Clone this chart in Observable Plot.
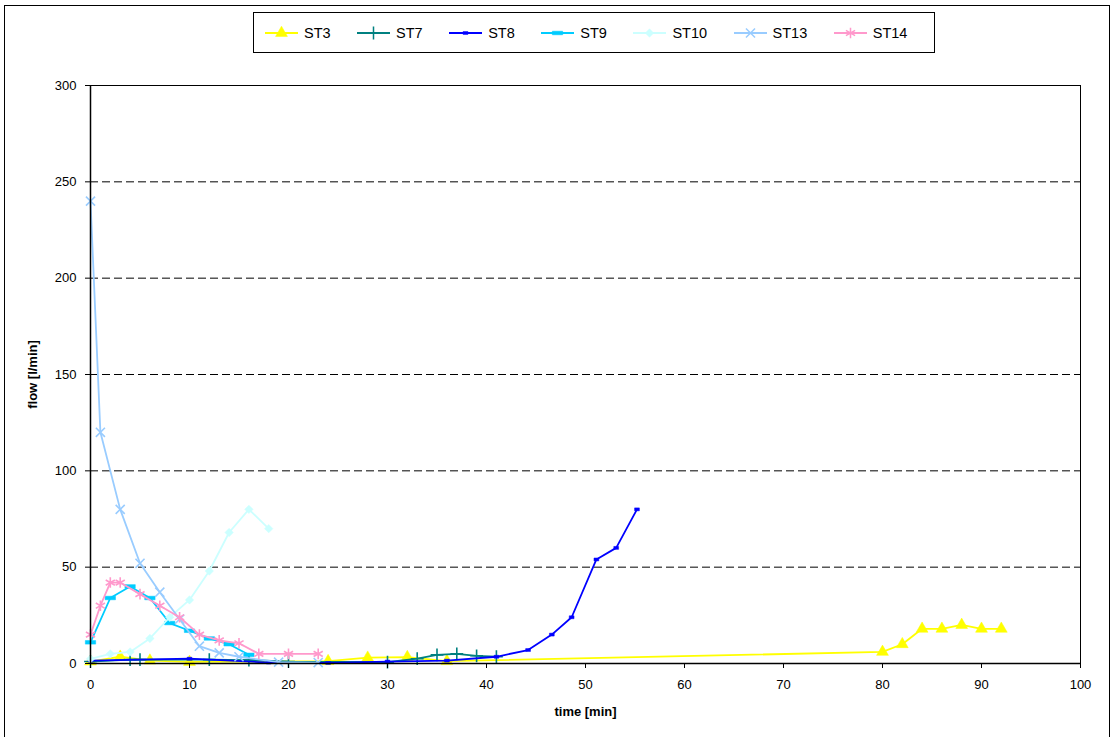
<!DOCTYPE html>
<html><head><meta charset="utf-8">
<script src="https://cdn.jsdelivr.net/npm/d3@7"></script>
<script src="https://cdn.jsdelivr.net/npm/@observablehq/plot@0.6"></script>
<style>
body{margin:0;background:#fff;font-family:"Liberation Sans",Arial,sans-serif;}
#wrap{position:relative;width:1113px;height:737px;overflow:hidden;background:#fff;}
#chart{position:absolute;left:0;top:0;}
#border{position:absolute;left:4px;top:5px;width:1106px;height:745px;border:1px solid #000;box-sizing:border-box;pointer-events:none;}
#legend{position:absolute;left:253px;top:12px;width:682px;height:41px;border:1px solid #000;box-sizing:border-box;background:#fff;display:flex;align-items:center;padding-left:11px;gap:26.5px;font-size:14.5px;}
.item{display:flex;align-items:center;}
.item span{margin-left:6px;}
</style></head>
<body>
<div id="wrap"><div id="chart"></div><div id="border"></div><div id="legend"></div></div>
<script>
// ---- data ----
const seriesNames = ["ST3","ST7","ST8","ST9","ST10","ST13","ST14"];
const st3x  = [0, 3, 6, 10, 24, 28, 32, 36, 80, 82, 84, 86, 88, 90, 92];
const st3y  = [1, 3.5, 1.5, 0.8, 1.2, 3, 3.3, 1.2, 6, 10, 18, 18, 20, 18, 18];
const st7x  = [0, 4, 5, 12, 16, 20, 30, 33, 35, 37, 39, 41];
const st7y  = [1, 2, 2, 2, 1.8, 1, 0.7, 2.5, 4.5, 5, 4, 3.5];
const st8x  = [0, 10, 18, 24, 30, 36, 41, 44.2, 46.6, 48.6, 51.1, 53.1, 55.2];
const st8y  = [1.5, 2.5, 0.5, 0.3, 1, 1.5, 3.5, 7, 15, 24, 54, 60, 80];
const st9x  = [0, 2, 4, 6, 8, 10, 12, 14, 16];
const st9y  = [11, 34, 40, 34, 21, 17, 13, 10, 4.5];
const st10x = [0, 2, 4, 6, 8, 10, 12, 14, 16, 18];
const st10y = [2.4, 5, 6, 13, 24, 33, 48, 68, 80, 70];
const st13x = [0, 1, 3, 5, 7, 9, 11, 13, 15, 19, 23];
const st13y = [240, 120, 80, 52, 37, 23, 9, 5.5, 3.5, 0.7, 0.5];
const st14x = [0, 1, 2, 3, 5, 7, 9, 11, 13, 15, 17, 20, 23];
const st14y = [15, 30, 42, 42, 36, 30, 24, 15, 12, 10.5, 5, 5, 5];
const xTicks = [0, 10, 20, 30, 40, 50, 60, 70, 80, 90, 100];
const yTicks = [0, 50, 100, 150, 200, 250, 300];
const gridValues = [50, 100, 150, 200, 250];
const xLabel = "time [min]";
const yLabel = "flow [l/min]";

// ---- styles ----
const colors = {ST3:"#FFFF00", ST7:"#008080", ST8:"#0000FF", ST9:"#00CCFF", ST10:"#CCFFFF", ST13:"#99CCFF", ST14:"#FF99CC"};
const smallDash = {draw(ctx, size){ const w = Math.sqrt(size)*0.9, h = Math.sqrt(size)*0.55; ctx.rect(-w/2,-h/2,w,h); }};
const wideDash  = {draw(ctx, size){ const w = Math.sqrt(size)*1.3, h = Math.sqrt(size)*0.45; ctx.rect(-w/2,-h/2,w,h); }};
const markers = {
  ST3:  {symbol:"triangle", r:4.4, filled:true},
  ST7:  {symbol:"plus", r:4.2, filled:false},
  ST8:  {symbol:smallDash, r:3, filled:true},
  ST9:  {symbol:wideDash, r:4.5, filled:true},
  ST10: {symbol:"diamond2", r:3.8, filled:true},
  ST13: {symbol:"times", r:4.2, filled:false},
  ST14: {symbol:"asterisk", r:5, filled:false}
};
const xs = {ST3:st3x, ST7:st7x, ST8:st8x, ST9:st9x, ST10:st10x, ST13:st13x, ST14:st14x};
const ys = {ST3:st3y, ST7:st7y, ST8:st8y, ST9:st9y, ST10:st10y, ST13:st13y, ST14:st14y};
const tables = seriesNames.map(n => xs[n].map((x,i) => ({series:n, x, y: ys[n][i]})));

const seriesMarks = tables.flatMap((data, k) => {
  const n = seriesNames[k], c = colors[n], m = markers[n];
  return [
    Plot.line(data, {x:"x", y:"y", stroke:c, strokeWidth:1.8}),
    Plot.dot(data, {x:"x", y:"y", symbol:()=>m.symbol, r:m.r,
      fill: m.filled ? c : "none", stroke:c, strokeWidth: m.filled ? 0.5 : 1.6})
  ];
});

const chart = Plot.plot({
  width:1113, height:737,
  marginLeft:90, marginRight:33, marginTop:85, marginBottom:74,
  style:{fontFamily:"'Liberation Sans', Arial, sans-serif", fontSize:"13px", background:"transparent", color:"#000"},
  x:{domain:[0,100]},
  y:{domain:[0,300]},
  symbol:{type:"identity"},
  marks:[
    Plot.ruleY(gridValues, {stroke:"#000", strokeWidth:1, strokeDasharray:"8,4"}),
    ...seriesMarks,
    Plot.frame({stroke:"#000", strokeWidth:1}),
    Plot.ruleX([0], {stroke:"#000", strokeWidth:1.5}),
    Plot.ruleY([0], {stroke:"#000", strokeWidth:1.5}),
    Plot.axisX(xTicks, {tickSize:5, tickPadding:11, label:null, stroke:"#000", fontSize:13}),
    Plot.axisY(yTicks, {tickSize:5, tickPadding:9, label:null, stroke:"#000", fontSize:13}),
    Plot.text([xLabel], {frameAnchor:"bottom", dy:52, fontWeight:"bold", fontSize:13, textAnchor:"middle"}),
    Plot.text([yLabel], {frameAnchor:"left", dx:-58, rotate:-90, fontWeight:"bold", fontSize:13, textAnchor:"middle"})
  ]
});
document.getElementById("chart").appendChild(chart);

// ---- legend ----
const legend = d3.select("#legend");
const d3sym = {triangle:d3.symbolTriangle, plus:d3.symbolPlus, times:d3.symbolTimes, asterisk:d3.symbolAsterisk, diamond2:d3.symbolDiamond2};
seriesNames.forEach(n => {
  const c = colors[n], m = markers[n];
  const item = legend.append("div").attr("class","item");
  const svg = item.append("svg").attr("width",33).attr("height",14);
  svg.append("line").attr("x1",0).attr("x2",33).attr("y1",7).attr("y2",7).attr("stroke",c).attr("stroke-width",1.8);
  const type = typeof m.symbol === "string" ? d3sym[m.symbol] : m.symbol;
  svg.append("path").attr("transform","translate(16.5,7)")
    .attr("d", d3.symbol(type, Math.PI*m.r*m.r)())
    .attr("fill", m.filled ? c : "none").attr("stroke", c).attr("stroke-width", m.filled ? 0.5 : 1.5);
  item.append("span").text(n);
});
</script>
</body></html>
